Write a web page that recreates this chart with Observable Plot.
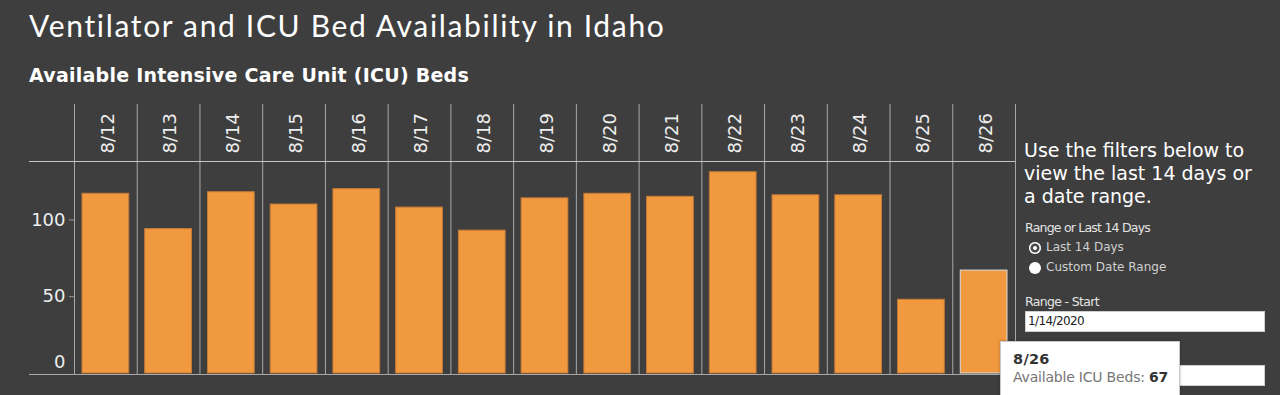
<!DOCTYPE html>
<html>
<head>
<meta charset="utf-8">
<script src="https://cdn.jsdelivr.net/npm/d3@7"></script>
<script src="https://cdn.jsdelivr.net/npm/@observablehq/plot@0.6"></script>
<style>
  html, body { margin: 0; padding: 0; background: #3e3e3e; }
  #wrap { position: relative; width: 1280px; height: 395px; overflow: hidden; background: #3e3e3e; font-family: "DejaVu Sans", sans-serif; }
  .abs { position: absolute; white-space: nowrap; }
  #title { left: 29px; top: 7px; font: 30px Lato, sans-serif; color: #ffffff; }
  #subtitle { left: 29px; top: 64px; font: bold 19px "DejaVu Sans", sans-serif; color: #ffffff; }
  #chart { position: absolute; left: 0; top: 95px; }
  #note { left: 1024px; top: 139px; font: 19px "DejaVu Sans", sans-serif; color: #ffffff; line-height: 23px; }
  .lbl { font: 12.5px "DejaVu Sans", sans-serif; color: #e4e4e4; }
  .opt { font: 12px "DejaVu Sans", sans-serif; color: #d0d0d0; }
  .radio { position: absolute; width: 12px; height: 12px; border-radius: 50%; background: #fff; box-sizing: border-box; }
  .radio.on { box-shadow: inset 0 0 0 1.5px #fff, inset 0 0 0 4px #4a4a4a; }
  .box { position: absolute; background: #fff; border: 1px solid #cfcfcf; box-sizing: border-box; }
  #tip { position: absolute; left: 1000px; top: 341px; width: 180px; height: 70px; background: #fff; border: 1px solid #c8c8c8; box-sizing: border-box; box-shadow: 0 0 3px rgba(0,0,0,0.25); }
</style>
</head>
<body>
<div id="wrap">
  <div id="title" class="abs"></div>
  <div id="subtitle" class="abs"></div>
  <div id="chart"></div>
  <div id="note" class="abs"></div>
  <div id="rangeLbl" class="abs lbl" style="left:1025px;top:220px;"></div>
  <div class="radio on" style="left:1029px;top:242px;"></div>
  <div id="opt1" class="abs opt" style="left:1046px;top:240px;"></div>
  <div class="radio" style="left:1029px;top:262px;"></div>
  <div id="opt2" class="abs opt" style="left:1046px;top:260px;"></div>
  <div id="startLbl" class="abs lbl" style="left:1025px;top:294px;"></div>
  <div class="box" style="left:1025px;top:311px;width:240px;height:21px;"></div>
  <div id="startVal" class="abs" style="left:1028px;top:314px;font:12px 'DejaVu Sans',sans-serif;color:#222;letter-spacing:-0.6px;"></div>
  <div class="box" style="left:1025px;top:365px;width:240px;height:21px;"></div>
  <div id="tip">
    <div id="tipDate" class="abs" style="left:12px;top:9px;font:bold 14.5px 'DejaVu Sans',sans-serif;color:#333;letter-spacing:0.3px;"></div>
    <div class="abs" style="left:12px;top:27px;font:14px 'DejaVu Sans',sans-serif;color:#767676;letter-spacing:-0.2px;"><span id="tipLabel"></span> <b id="tipValue" style="color:#333;"></b></div>
  </div>
</div>
<script>
// ---- data ----
const titleText = "Ventilator and ICU Bed Availability in Idaho";
const subtitleText = "Available Intensive Care Unit (ICU) Beds";
const dates = ["8/12","8/13","8/14","8/15","8/16","8/17","8/18","8/19","8/20","8/21","8/22","8/23","8/24","8/25","8/26"];
const icuBeds = [117, 94, 118, 110, 120, 108, 93, 114, 117, 115, 131, 116, 116, 48, 67];
const yTicks = [0, 50, 100];
const selectedDate = "8/26";
const noteLines = ["Use the filters below to", "view the last 14 days or", "a date range."];
const filterLabel = "Range or Last 14 Days";
const filterOptions = ["Last 14 Days", "Custom Date Range"];
const startLabel = "Range - Start";
const startValue = "1/14/2020";
const tipLabel = "Available ICU Beds:";

// ---- text ----
document.getElementById("title").textContent = titleText;
document.getElementById("subtitle").textContent = subtitleText;
document.getElementById("note").innerHTML = noteLines.join("<br>");
document.getElementById("rangeLbl").textContent = filterLabel;
document.getElementById("opt1").textContent = filterOptions[0];
document.getElementById("opt2").textContent = filterOptions[1];
document.getElementById("startLbl").textContent = startLabel;
document.getElementById("startVal").textContent = startValue;
const selIdx = dates.indexOf(selectedDate);
document.getElementById("tipDate").textContent = selectedDate;
document.getElementById("tipLabel").textContent = tipLabel;
document.getElementById("tipValue").textContent = icuBeds[selIdx];

function fit(id, target) {
  const el = document.getElementById(id);
  const n = el.textContent.length;
  const w = el.getBoundingClientRect().width;
  el.style.letterSpacing = ((target - w) / n) + "px";
}
fit("title", 637);
fit("subtitle", 440);
fit("rangeLbl", 125);
fit("startLbl", 74);

// ---- chart ----
const data = dates.map((d, i) => ({date: d, beds: icuBeds[i]}));
const x0 = 74, x1 = 1015;
const bw = (x1 - x0) / dates.length;
const gridColor = "#a8a8a8";
const textColor = "#eeeeee";

const chart = Plot.plot({
  width: 1020,
  height: 300,
  marginTop: 9,
  marginBottom: 21,
  marginLeft: 29,
  marginRight: 5,
  style: {background: "transparent", color: textColor, fontFamily: "'DejaVu Sans', sans-serif", fontSize: "18px"},
  x: {type: "band", domain: dates, range: [x0, x1], padding: 0, round: false, axis: null},
  y: {domain: [0, 138], range: [278, 66], axis: null},
  marks: [
    Plot.barY(data.filter(d => d.date !== selectedDate), {x: "date", y: "beds", fill: "#f1993f", stroke: "#c67b37", strokeWidth: 1, insetLeft: 8, insetRight: 8}),
    Plot.barY(data.filter(d => d.date === selectedDate), {x: "date", y: "beds", fill: "#f1993f", stroke: "#dddddd", strokeWidth: 1, insetLeft: 8, insetRight: 8}),
    Plot.ruleX(dates, {x: d => d, dx: -bw / 2, stroke: gridColor}),
    Plot.ruleX([dates[dates.length - 1]], {x: d => d, dx: bw / 2, stroke: gridColor}),
    Plot.ruleY([0], {stroke: gridColor, dy: 1}),
    Plot.ruleY([138], {stroke: "#c4c4c4"}),
    Plot.axisY(yTicks.filter(v => v > 0), {anchor: "left", tickSize: 5, tickPadding: 4, dx: x0 - 29, stroke: "#9a9a9a", fill: textColor, fontSize: 18, label: null}),
    Plot.text(yTicks.filter(v => v === 0), {y: d => d, text: d => String(d), frameAnchor: "left", dx: 36, dy: -11, textAnchor: "end", fill: textColor, fontSize: 18}),
    Plot.text(dates, {x: d => d, text: d => d, frameAnchor: "top", rotate: -90, textAnchor: "start", dy: 49, dx: -5, fill: textColor, fontSize: 18})
  ]
});
document.getElementById("chart").appendChild(chart);
</script>
</body>
</html>
